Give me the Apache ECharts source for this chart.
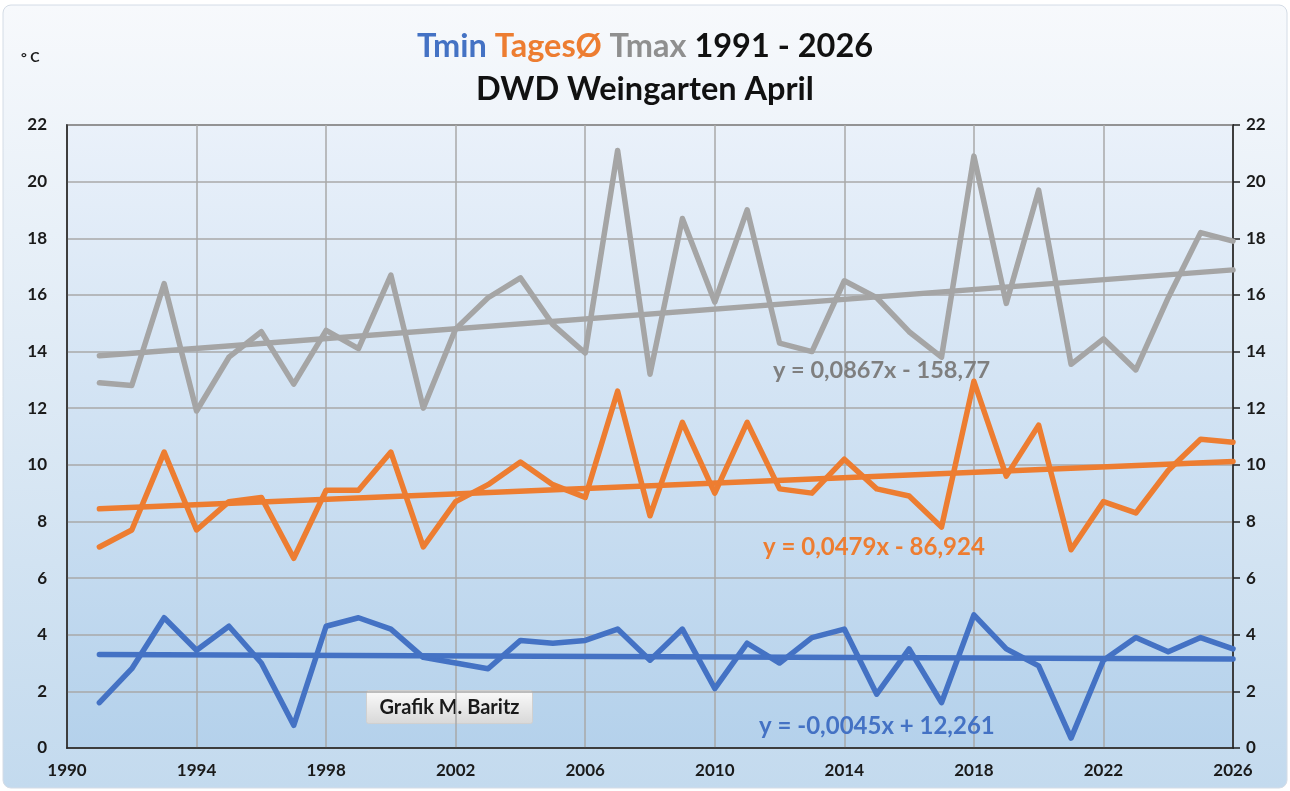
<!DOCTYPE html>
<html>
<head>
<meta charset="utf-8">
<script src="https://cdn.jsdelivr.net/npm/echarts@6/dist/echarts.min.js"></script>
<style>html,body{margin:0;padding:0;background:#fff}#c{width:1290px;height:791px}</style>
</head>
<body>
<div id="c"></div>
<script>
const years = [1991,1992,1993,1994,1995,1996,1997,1998,1999,2000,2001,2002,2003,2004,2005,2006,2007,2008,2009,2010,2011,2012,2013,2014,2015,2016,2017,2018,2019,2020,2021,2022,2023,2024,2025,2026];
const tmax = [12.9,12.8,16.4,11.9,13.8,14.7,12.85,14.75,14.1,16.7,12.0,14.8,15.9,16.6,14.95,13.95,21.1,13.2,18.7,15.75,19.0,14.3,14.0,16.5,15.9,14.7,13.8,20.9,15.7,19.7,13.55,14.45,13.35,15.9,18.2,17.9];
const tavg = [7.1,7.7,10.45,7.7,8.7,8.85,6.7,9.1,9.1,10.45,7.1,8.7,9.3,10.1,9.3,8.85,12.6,8.2,11.5,9.0,11.5,9.15,9.0,10.2,9.15,8.9,7.8,12.95,9.6,11.4,7.0,8.7,8.3,9.8,10.9,10.8];
const tmin = [1.6,2.8,4.6,3.45,4.3,3.0,0.8,4.3,4.6,4.2,3.2,3.0,2.8,3.8,3.7,3.8,4.2,3.1,4.2,2.1,3.7,3.0,3.9,4.2,1.9,3.5,1.6,4.7,3.5,2.9,0.35,3.1,3.9,3.4,3.9,3.5];
// trend lines: y = slope * year + intercept
const trendSlope = { tmin: -0.0045, tavg: 0.0479, tmax: 0.0867 };
const trendIntercept = { tmin: 12.261, tavg: -86.924, tmax: -158.77 };
const trendLabels = { tmin: 'y = -0,0045x + 12,261', tavg: 'y = 0,0479x - 86,924', tmax: 'y = 0,0867x - 158,77' };
const xTicks = [1990, 2026, 4];
const yTicks = [0, 22, 2];

const C_MIN = '#4472C4', C_AVG = '#ED7D31', C_MAX = '#A5A5A5';
const FONT = 'Lato, "Open Sans", sans-serif';

function pairs(vals){ return years.map((y,i)=>[y, vals[i]]); }
function trend(key){
  const a = years[0], b = years[years.length-1];
  return [[a, trendSlope[key]*a + trendIntercept[key]], [b, trendSlope[key]*b + trendIntercept[key]]];
}
function lineSeries(name, data, color, z){
  return { name, type:'line', data, symbol:'none', z,
    lineStyle:{ color, width:5.5, cap:'round', join:'round' }, silent:true };
}

const chart = echarts.init(document.getElementById('c'));
const axisLbl = { color:'#1a1a1a', fontFamily:FONT, fontWeight:'bold', fontSize:17 };
const TS = 32.5;
chart.setOption({
  animation:false,
  backgroundColor:'#ffffff',
  graphic:[
    { type:'rect', z:-10, shape:{ x:3, y:5, width:1284, height:783, r:8 },
      style:{ fill:new echarts.graphic.LinearGradient(0,0,0,1,[{offset:0,color:'#f7f9fc'},{offset:1,color:'#c3daee'}]), stroke:'#d4dce6', lineWidth:1 } },
    { type:'text', left:21, top:50, style:{ text:'° C', font:'bold 14px '+FONT, fill:'#1a1a1a' } },
    { type:'text', left:773, top:358, z:50, style:{ text:trendLabels.tmax, font:'bold 23.5px '+FONT, fill:'#7f7f7f' } },
    { type:'text', left:763, top:535, z:50, style:{ text:trendLabels.tavg, font:'bold 24px '+FONT, fill:C_AVG } },
    { type:'text', left:759, top:714, z:50, style:{ text:trendLabels.tmin, font:'bold 24px '+FONT, fill:C_MIN } },
    { type:'group', left:366, top:690, z:50, children:[
      { type:'rect', shape:{ x:0, y:0, width:166, height:33, r:2 },
        style:{ fill:new echarts.graphic.LinearGradient(0,0,0,1,[{offset:0,color:'#fbfbfb'},{offset:1,color:'#d8d8d8'}]), stroke:'#d0d0d0', lineWidth:1 } },
      { type:'text', x:83, y:17, style:{ text:'Grafik M. Baritz', font:'bold 20px '+FONT, fill:'#1a1a1a', align:'center', verticalAlign:'middle' } }
    ]}
  ],
  title:{
    left:'center', top:20,
    text:'{b|Tmin} {o|TagesØ} {g|Tmax} {k|1991 - 2026}\n{k|DWD Weingarten April}',
    textStyle:{ fontFamily:FONT, fontWeight:'bold', fontSize:TS, lineHeight:43,
      rich:{
        b:{ color:C_MIN, fontFamily:FONT, fontWeight:'bold', fontSize:TS, lineHeight:43 },
        o:{ color:C_AVG, fontFamily:FONT, fontWeight:'bold', fontSize:TS, lineHeight:43 },
        g:{ color:'#8f8f8f', fontFamily:FONT, fontWeight:'bold', fontSize:TS, lineHeight:43 },
        k:{ color:'#111', fontFamily:FONT, fontWeight:'bold', fontSize:TS, lineHeight:43 }
      } }
  },
  grid:{ left:67, right:57, top:125, bottom:43, show:true, borderColor:'#222', borderWidth:1.5,
    backgroundColor:new echarts.graphic.LinearGradient(0,0,0,1,[{offset:0,color:'#eaf1fa'},{offset:1,color:'#b4d1eb'}]) },
  xAxis:{ type:'value', min:xTicks[0], max:xTicks[1], interval:xTicks[2],
    axisLine:{ show:true, onZero:false, lineStyle:{ color:'#222', width:1.5 } },
    axisTick:{ show:false },
    axisLabel:{ ...axisLbl, margin:14, formatter:v=>String(v) },
    splitLine:{ show:true, lineStyle:{ color:'#a8a8a8', width:1.5 } } },
  yAxis:[
    { type:'value', min:yTicks[0], max:yTicks[1], interval:yTicks[2], position:'left',
      axisLine:{ show:true, lineStyle:{ color:'#222', width:1.5 } }, axisTick:{ show:false },
      axisLabel:{ ...axisLbl, margin:20 },
      splitLine:{ show:true, lineStyle:{ color:'#a8a8a8', width:1.5 } } },
    { type:'value', min:yTicks[0], max:yTicks[1], interval:yTicks[2], position:'right',
      axisLine:{ show:true, lineStyle:{ color:'#222', width:1.5 } },
      axisTick:{ show:true, inside:false, length:7, lineStyle:{ color:'#222', width:1.5 } },
      axisLabel:{ ...axisLbl, margin:13 }, splitLine:{ show:false } }
  ],
  series:[
    lineSeries('Tmax', pairs(tmax), C_MAX, 3),
    lineSeries('Tmax Trend', trend('tmax'), C_MAX, 3),
    lineSeries('TagesØ', pairs(tavg), C_AVG, 4),
    lineSeries('TagesØ Trend', trend('tavg'), C_AVG, 4),
    lineSeries('Tmin', pairs(tmin), C_MIN, 5),
    lineSeries('Tmin Trend', trend('tmin'), C_MIN, 5)
  ]
});
</script>
</body>
</html>
